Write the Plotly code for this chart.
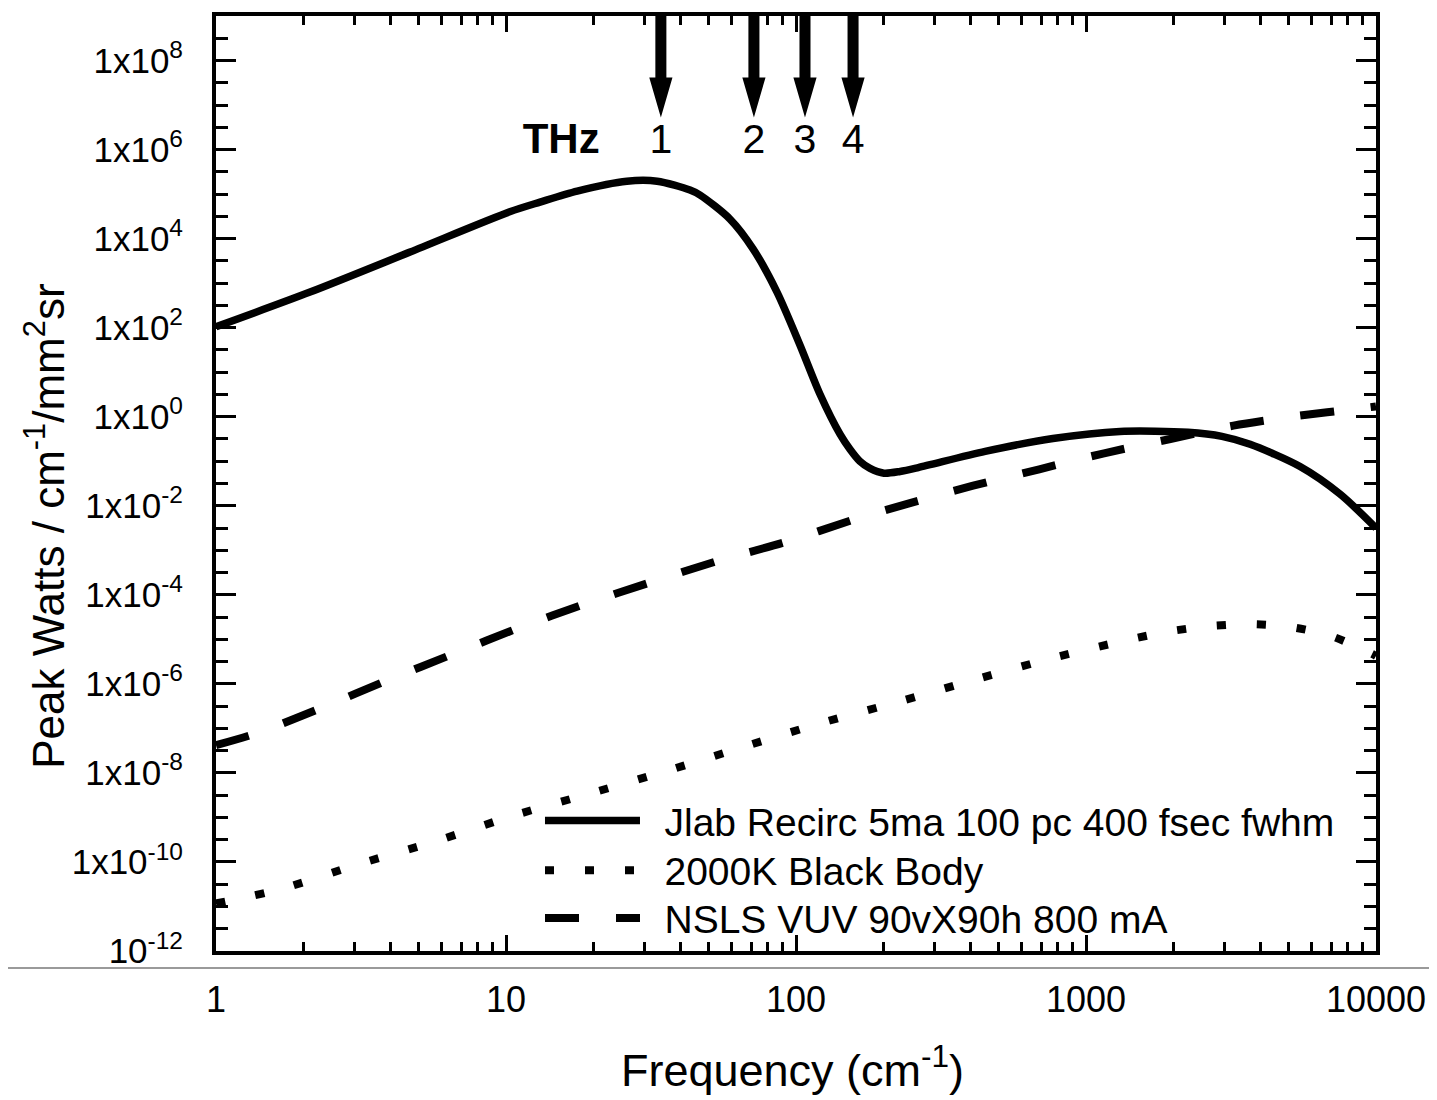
import plotly.graph_objects as go

# ---------------- data ----------------
freq_jlab = [1.0, 2.11, 4.67, 10.3, 13.1, 17.6, 26.1, 33.2, 43.1, 46.7, 59.2, 71.1, 86.0,
             103, 121, 142, 153.5, 166, 180, 201, 228.5, 264, 449, 769, 1310, 2248, 2943,
             3680, 5470, 7520, 10000]
power_jlab = [1.05e2, 6.3e2, 5.0e3, 4.0e4, 6.6e4, 1.17e5, 1.95e5, 1.95e5, 1.23e5, 9.5e4,
              2.75e4, 5.9e3, 6.3e2, 4.2e1, 3.2, 0.40, 0.186, 0.10, 0.069, 0.054, 0.059, 0.072,
              0.166, 0.324, 0.468, 0.447, 0.363, 0.240, 0.076, 0.0182, 0.00316]

freq_bb = [1.0, 1.67, 3.10, 5.75, 10.7, 19.8, 36.8, 66.3, 125, 233, 432, 802, 1490, 2023,
           2718, 3757, 5045, 6971, 9690, 10000]
power_bb = [1.17e-11, 2.45e-11, 8.9e-11, 2.95e-10, 1.12e-9, 3.55e-9, 1.17e-8, 3.9e-8, 1.38e-7,
            4.2e-7, 1.35e-6, 4.1e-6, 1.07e-5, 1.58e-5, 2.0e-5, 2.19e-5, 1.9e-5, 1.2e-5, 4.7e-6,
            4.2e-6]

freq_nsls = [1.0, 1.38, 2.33, 3.93, 6.63, 11.1, 18.8, 31.8, 53.7, 91.2, 160, 242, 408, 690,
             1154, 1954, 3223, 5408, 8936, 10000]
power_nsls = [4.2e-8, 7.8e-8, 2.95e-7, 1.23e-6, 4.8e-6, 1.82e-5, 6.3e-5, 1.95e-4, 5.75e-4,
              1.51e-3, 5.0e-3, 1.10e-2, 2.82e-2, 6.6e-2, 0.151, 0.316, 0.631, 1.05, 1.55, 1.70]

series_names = ["Jlab Recirc 5ma 100 pc 400 fsec fwhm", "2000K Black Body",
                "NSLS VUV 90vX90h 800 mA"]

thz_labels = ["1", "2", "3", "4"]
thz_freq = [34.2, 71.6, 107.4, 157.3]

x_tick_vals = [1, 10, 100, 1000, 10000]
x_tick_text = ["1", "10", "100", "1000", "10000"]
y_tick_exps = [-12, -10, -8, -6, -4, -2, 0, 2, 4, 6, 8]
y_tick_text = ["10<sup>-12</sup>", "1x10<sup>-10</sup>", "1x10<sup>-8</sup>", "1x10<sup>-6</sup>",
               "1x10<sup>-4</sup>", "1x10<sup>-2</sup>", "1x10<sup>0</sup>", "1x10<sup>2</sup>",
               "1x10<sup>4</sup>", "1x10<sup>6</sup>", "1x10<sup>8</sup>"]

# ---------------- style constants ----------------
FONT = "Liberation Sans, Arial, sans-serif"
ARROW_TOP_EXP = 9.3
ARROW_BASE_EXP = 7.62
ARROW_TIP_EXP = 6.72
SHAFT_HALF_DEC = 0.019
HEAD_HALF_DEC = 0.040
LABEL_EXP = 6.16
THZ_WORD_X = 15.5

fig = go.Figure()

line_common = dict(color="black", shape="spline", smoothing=0.8)
fig.add_trace(go.Scatter(x=freq_jlab, y=power_jlab, mode="lines",
                         name="\u2002" + series_names[0], legend="legend",
                         line=dict(width=7.5, **line_common)))
fig.add_trace(go.Scatter(x=freq_bb, y=power_bb, mode="lines",
                         name="\u2002" + series_names[1], legend="legend2",
                         line=dict(width=8, dash="9px,31px", **line_common)))
fig.add_trace(go.Scatter(x=freq_nsls, y=power_nsls, mode="lines",
                         name="\u2002" + series_names[2], legend="legend3",
                         line=dict(width=8, dash="34px,37px", **line_common)))

# THz arrows (filled polygons built around each arrow frequency)
ax_, ay_ = [], []
for f in thz_freq:
    s = 10 ** SHAFT_HALF_DEC
    h = 10 ** HEAD_HALF_DEC
    ax_ += [f / s, f / s, f / h, f, f * h, f * s, f * s, None]
    ay_ += [10 ** ARROW_TOP_EXP, 10 ** ARROW_BASE_EXP, 10 ** ARROW_BASE_EXP,
            10 ** ARROW_TIP_EXP, 10 ** ARROW_BASE_EXP, 10 ** ARROW_BASE_EXP,
            10 ** ARROW_TOP_EXP, None]
fig.add_trace(go.Scatter(x=ax_, y=ay_, mode="lines", fill="toself", fillcolor="black",
                         line=dict(color="black", width=0), showlegend=False,
                         hoverinfo="skip"))
fig.add_trace(go.Scatter(x=thz_freq, y=[10 ** LABEL_EXP] * len(thz_freq), mode="text",
                         text=thz_labels, textposition="middle center",
                         textfont=dict(family=FONT, size=41, color="black"),
                         showlegend=False, hoverinfo="skip"))
fig.add_trace(go.Scatter(x=[THZ_WORD_X], y=[10 ** LABEL_EXP], mode="text",
                         text=["<b>THz</b>"], textposition="middle center",
                         textfont=dict(family=FONT, size=42, color="black"),
                         showlegend=False, hoverinfo="skip"))

y_major = [10.0 ** e for e in y_tick_exps]
y_minor = [10.0 ** (k / 2) for k in range(-24, 19) if k % 4 != 0]
x_minor = [m * 10 ** d for d in range(0, 4) for m in range(2, 10)]

legend_common = dict(xanchor="left", yanchor="middle", bgcolor="rgba(0,0,0,0)",
                     borderwidth=0, font=dict(family=FONT, size=39, color="black"),
                     itemwidth=95)
LEG_X = 0.2793

fig.update_layout(
    width=1429, height=1092,
    margin=dict(l=208, r=61, t=4, b=149),
    paper_bgcolor="white", plot_bgcolor="white",
    font=dict(family=FONT, color="black"),
    showlegend=True,
    legend=dict(x=LEG_X, y=0.1395, **legend_common),
    legend2=dict(x=LEG_X, y=0.0863, **legend_common),
    legend3=dict(x=LEG_X, y=0.0351, **legend_common),
    xaxis=dict(type="log", range=[0, 4], showgrid=False, zeroline=False,
               showline=True, linecolor="black", linewidth=4, mirror="ticks",
               ticks="inside", ticklen=16, tickwidth=3, tickcolor="black",
               tickvals=x_tick_vals, ticktext=x_tick_text,
               tickfont=dict(family=FONT, size=36, color="black"),
               ticklabelstandoff=14,
               minor=dict(tickvals=x_minor, ticks="inside", ticklen=9, tickwidth=3,
                          tickcolor="black", showgrid=False)),
    yaxis=dict(type="log", range=[-12, 9], showgrid=False, zeroline=False,
               showline=True, linecolor="black", linewidth=4, mirror="ticks",
               ticks="inside", ticklen=20, tickwidth=3, tickcolor="black",
               tickvals=y_major, ticktext=y_tick_text,
               tickfont=dict(family=FONT, size=35, color="black"),
               ticklabelstandoff=22,
               minor=dict(tickvals=y_minor, ticks="inside", ticklen=12, tickwidth=3,
                          tickcolor="black", showgrid=False)),
    annotations=[
        dict(text="Frequency (cm<sup>-1</sup>)", xref="paper", yref="paper",
             x=0.4974, y=-0.1236, xanchor="center", yanchor="middle", showarrow=False,
             font=dict(family=FONT, size=45, color="black")),
        dict(text="Peak Watts / cm<sup>-1</sup>/mm<sup>2</sup>sr", xref="paper",
             yref="paper", x=-0.1474, y=0.4537, xanchor="center", yanchor="middle",
             textangle=-90, showarrow=False,
             font=dict(family=FONT, size=44, color="black")),
    ],
    shapes=[dict(type="line", xref="paper", yref="paper", x0=-0.19, x1=1.06,
                 y0=-0.0181, y1=-0.0181, line=dict(color="#9a9a9a", width=2))],
)

fig.write_html("out.html")
